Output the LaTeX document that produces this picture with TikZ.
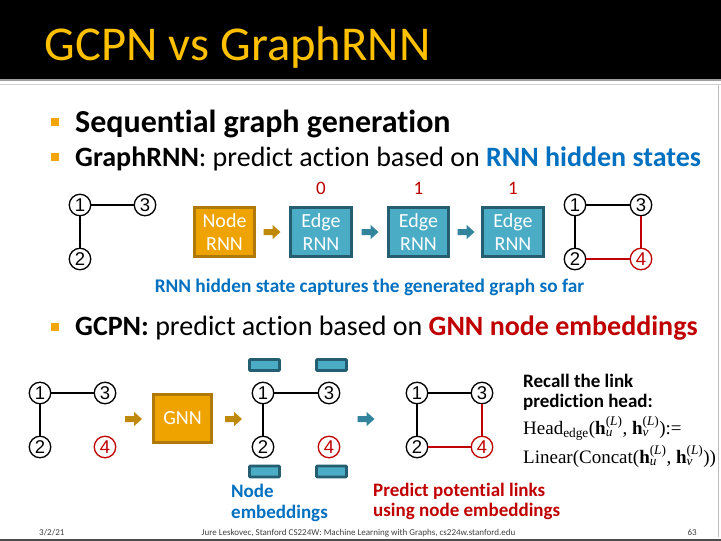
\documentclass[tikz,border=0pt]{standalone}
\usepackage{amsmath}
\usepackage[no-math]{fontspec}
\setmainfont{Carlito}[Ligatures=NoCommon]
\newfontfamily\digitfont{Liberation Sans}
\newfontfamily\formulafont{Liberation Serif}
\usetikzlibrary{calc}

% bold vector h with node subscript and layer superscript
\newcommand{\hlayer}[1]{\textbf{h}$_{\textit{#1}}^{\text{(\textit{L})}}$}

\definecolor{titleyellow}{HTML}{FFC000}
\definecolor{bulletorange}{HTML}{F2A60C}
\definecolor{boxorange}{HTML}{EFA300}
\definecolor{boxorangedark}{HTML}{B07A0A}
\definecolor{arroworange}{HTML}{BF8A0C}
\definecolor{boxteal}{HTML}{4BACC6}
\definecolor{boxtealdark}{HTML}{245E70}
\definecolor{arrowteal}{HTML}{31849B}
\definecolor{textblue}{HTML}{0070C0}
\definecolor{textred}{HTML}{C00000}
\definecolor{footgray}{HTML}{404040}

\begin{document}
\begin{tikzpicture}[x=1pt,y=-1pt,
  gnode/.style={circle, draw=black, line width=1.3pt, fill=white,
    minimum size=21.5pt, inner sep=0pt,
    font=\digitfont\fontsize{18.5}{18.5}\selectfont},
  rednode/.style={gnode, draw=textred, text=textred},
  gedge/.style={draw=black, line width=1.3pt},
  redge/.style={draw=textred, line width=1.3pt},
  rnnbox/.style={draw=boxorangedark, fill=boxorange, line width=2.6pt,
    minimum width=60.5pt, minimum height=49.5pt, inner sep=0pt,
    text=white, align=center, font=\fontsize{20}{23}\selectfont},
  edgebox/.style={rnnbox, draw=boxtealdark, fill=boxteal},
  embbar/.style={draw=boxtealdark, fill=boxteal, line width=2.8pt,
    minimum width=30pt, minimum height=11pt, inner sep=0pt,
    rounded corners=0.8pt},
  bullet/.style={fill=bulletorange, minimum size=8pt, inner sep=0pt},
  bullettext/.style={anchor=base west, inner sep=0pt},
  bitlabel/.style={text=textred, font=\fontsize{19}{19}\selectfont},
  formula/.style={anchor=base west, inner sep=0pt,
    font=\formulafont\fontsize{19}{19}\selectfont},
  foottext/.style={inner sep=0pt, text=footgray, font=\fontsize{9}{9}\selectfont},
  blockarr/.pic={\fill[pic actions] (-8.5,-3) -- (0.5,-3) -- (0.5,-7.2)
    -- (8.5,0) -- (0.5,7.2) -- (0.5,3) -- (-8.5,3) -- cycle;}
]
\useasboundingbox (0,0) rectangle (721,541);
\fill[white] (0,0) rectangle (721,541);

% title bar
\fill[black] (0,0) rectangle (721,79);
\draw[line width=1.2pt, draw=black!38] (0,80) -- (721,80);
\draw[line width=1pt, draw=black!18] (0,84.5) -- (721,84.5);
\draw[line width=0.8pt, draw=black!25] (718.5,85) -- (718.5,537);
\node[anchor=base west, inner sep=0pt, text=titleyellow,
  font=\fontsize{48.6}{48.6}\selectfont] (title) at (44.5,60) {GCPN vs GraphRNN};

% bullet lines
\node[bullet] (b1) at (54.5,121.5) {};
\node[bullettext, font=\fontsize{32}{32}\selectfont\bfseries] (t1) at (75,132)
  {Sequential graph generation};
\node[bullet] (b2) at (54.5,157) {};
\node[bullettext, font=\fontsize{28}{28}\selectfont] (t2) at (75,166)
  {\textbf{GraphRNN}: predict action based on \textcolor{textblue}{\textbf{RNN hidden states}}};
\node[bullet] (b3) at (54.5,327) {};
\node[bullettext, font=\fontsize{28}{28}\selectfont] (t3) at (75,335)
  {\textbf{GCPN:} predict action based on \textcolor{textred}{\textbf{GNN node embeddings}}};

% GraphRNN: input graph
\node[gnode] (a1) at (80,205) {1};
\node[gnode] (a3) at (145,205) {3};
\node[gnode] (a2) at (80,259) {2};
\draw[gedge] (a1) -- (a3);
\draw[gedge] (a1) -- (a2);

% GraphRNN: node RNN and edge RNNs
\node[rnnbox] (nrnn) at (224.5,232) {Node\\RNN};
\node[edgebox] (e1) at (321,232) {Edge\\RNN};
\node[edgebox] (e2) at (418.5,232) {Edge\\RNN};
\node[edgebox] (e3) at (513,232) {Edge\\RNN};
\node[bitlabel] (l1) at (321,188) {0};
\node[bitlabel] (l2) at (418.5,188) {1};
\node[bitlabel] (l3) at (513,188) {1};
\pic[fill=arroworange] at (272,232) {blockarr};
\pic[fill=arrowteal] at (370,232) {blockarr};
\pic[fill=arrowteal] at (466,232) {blockarr};

% GraphRNN: output graph
\node[gnode] (c1) at (575,205) {1};
\node[gnode] (c3) at (641,205) {3};
\node[gnode] (c2) at (575,259) {2};
\node[rednode] (c4) at (641,259) {4};
\draw[gedge] (c1) -- (c3);
\draw[gedge] (c1) -- (c2);
\draw[redge] (c3) -- (c4);
\draw[redge] (c2) -- (c4);

\node[anchor=base, inner sep=0pt, text=textblue,
  font=\fontsize{19.3}{19.3}\selectfont\bfseries] (cap1) at (369.5,292)
  {RNN hidden state captures the generated graph so far};

% GCPN: input graph
\node[gnode] (p1) at (40,393) {1};
\node[gnode] (p3) at (105,393) {3};
\node[gnode] (p2) at (40,447) {2};
\node[rednode] (p4) at (105,447) {4};
\draw[gedge] (p1) -- (p3);
\draw[gedge] (p1) -- (p2);

\pic[fill=arroworange] at (133.5,419) {blockarr};
\node[rnnbox, minimum width=58.5pt, minimum height=48.5pt] (gnn) at (182.5,418.5) {GNN};
\pic[fill=arroworange] at (233.5,419) {blockarr};

% GCPN: graph with node embeddings
\node[gnode] (m1) at (263,393) {1};
\node[gnode] (m3) at (329,393) {3};
\node[gnode] (m2) at (263,447) {2};
\node[rednode] (m4) at (329,447) {4};
\draw[gedge] (m1) -- (m3);
\draw[gedge] (m1) -- (m2);
\node[embbar] (h1) at (264.5,365) {};
\node[embbar] (h3) at (331.5,365) {};
\node[embbar] (h2) at (264.5,471.5) {};
\node[embbar] (h4) at (331.5,471.5) {};
\node[anchor=base west, inner sep=0pt, align=left, text=textblue,
  font=\fontsize{19}{20.5}\selectfont\bfseries] (embtxt) at (231,518)
  {Node\\embeddings};

\pic[fill=arrowteal] at (366,419) {blockarr};

% GCPN: predicted links
\node[gnode] (q1) at (417,393) {1};
\node[gnode] (q3) at (482,393) {3};
\node[gnode] (q2) at (417,447) {2};
\node[rednode] (q4) at (482,447) {4};
\draw[gedge] (q1) -- (q3);
\draw[gedge] (q1) -- (q2);
\draw[redge] (q3) -- (q4);
\draw[redge] (q2) -- (q4);
\node[anchor=base west, inner sep=0pt, align=left, text=textred,
  font=\fontsize{19}{20}\selectfont\bfseries] (predtxt) at (373,516)
  {Predict potential links\\using node embeddings};

% link prediction head
\node[anchor=base west, inner sep=0pt, align=left,
  font=\fontsize{19}{20}\selectfont\bfseries] (recall) at (523,407)
  {Recall the link\\prediction head:};
\node[formula] (head) at (523,434)
  {Head$_{\text{edge}}$(\hlayer{u}, \hlayer{v}):=};
\node[formula] (lin) at (523,463)
  {Linear(Concat(\hlayer{u}, \hlayer{v}))};

% footer
\node[foottext, anchor=base west] (date) at (39,535.5) {3/2/21};
\node[foottext, anchor=base] (foot) at (358.5,535.5)
  {Jure Leskovec, Stanford CS224W: Machine Learning with Graphs, cs224w.stanford.edu};
\node[foottext, anchor=base east] (page) at (697,535.5) {63};
\fill[black!70] (0,538.5) rectangle (721,541);
\end{tikzpicture}
\end{document}
